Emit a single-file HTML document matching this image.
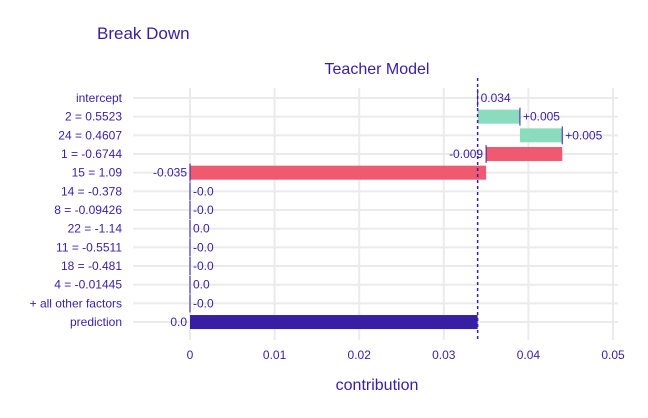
<!DOCTYPE html>
<html><head><meta charset="utf-8"><style>
body{margin:0;background:#fff;font-family:"Liberation Sans",sans-serif;}
svg text{font-family:"Liberation Sans",sans-serif;fill:#371ea3;}
</style></head><body>
<svg id="c" width="648" height="413">
<text x="97" y="39" font-size="17">Break Down</text>
<text x="377" y="74" font-size="16" text-anchor="middle">Teacher Model</text>
<text x="377" y="390" font-size="16" text-anchor="middle">contribution</text>
<g id="grid"></g><g id="marks"></g>
</svg>
<script>
const categories=["intercept","2 = 0.5523","24 = 0.4607","1 = -0.6744","15 = 1.09","14 = -0.378","8 = -0.09426","22 = -1.14","11 = -0.5511","18 = -0.481","4 = -0.01445","+ all other factors","prediction"];
const starts=[0.034,0.034,0.039,0.044,0.035,0,0,0,0,0,0,0,0];
const ends=[0.034,0.039,0.044,0.035,0,0,0,0,0,0,0,0,0.034];
const valueLabels=["0.034","+0.005","+0.005","-0.009","-0.035","-0.0","-0.0","0.0","-0.0","-0.0","0.0","-0.0","0.0"];
const xTicks=[0,0.01,0.02,0.03,0.04,0.05];
const xTickLabels=["0","0.01","0.02","0.03","0.04","0.05"];
const baseline=0.034;
const NS="http://www.w3.org/2000/svg";
const x=v=>190+v*8460;
const y=i=>98+i*18.67;
const grid=document.getElementById('grid'),marks=document.getElementById('marks');
function mk(p,tag,a){const e=document.createElementNS(NS,tag);for(const k in a)e.setAttribute(k,a[k]);p.appendChild(e);return e;}
xTicks.forEach((t,i)=>{
  const l=mk(grid,'line',{x1:x(t),x2:x(t),y1:88,y2:340,stroke:'#ebebeb','stroke-width':2});
  
  
  const tx=mk(grid,'text',{x:x(t),y:359,'font-size':12,'text-anchor':'middle'});tx.textContent=xTickLabels[i];
  
  
});
categories.forEach((c,i)=>{
  const l=mk(grid,'line',{x1:133,x2:618,y1:y(i),y2:y(i),stroke:'#ebebeb','stroke-width':2});
  
  
  const tx=mk(grid,'text',{x:122,y:y(i)+4,'font-size':12,'text-anchor':'end'});tx.textContent=c;
  
  
});
categories.forEach((c,i)=>{
  const s=starts[i],e=ends[i];
  const a=Math.min(x(s),x(e)),b=Math.max(x(s),x(e));
  let col=i==categories.length-1?'#371ea3':(e>s?'#8bdcbe':'#f05a71');
  if(b-a>0.5){
    const r=mk(marks,'rect',{x:a,y:y(i)-7,width:b-a,height:14,fill:col});
    
    
  }
  if(i>0&&i<categories.length-1){
    const ln=mk(marks,'line',{x1:x(e),x2:x(e),y1:y(i)-9,y2:y(i)+9,stroke:'#371ea3','stroke-width':1});
    
    
  } else if(i==0){
    const ln=mk(marks,'line',{x1:x(e),x2:x(e),y1:y(i)-9,y2:y(i)+9,stroke:'#371ea3','stroke-width':1});
    
    
  }
  const neg=e<s||i==categories.length-1;
  const tx=mk(marks,'text',{x:neg?a-3:b+3,y:y(i)+4,'font-size':12,'text-anchor':neg?'end':'start'});
  tx.textContent=valueLabels[i];
  
  
});
const ref=mk(marks,'line',{x1:x(baseline),x2:x(baseline),y1:78,y2:340,stroke:'#371ea3','stroke-width':1.5,'stroke-dasharray':'3,3'});


</script>
</body></html>
